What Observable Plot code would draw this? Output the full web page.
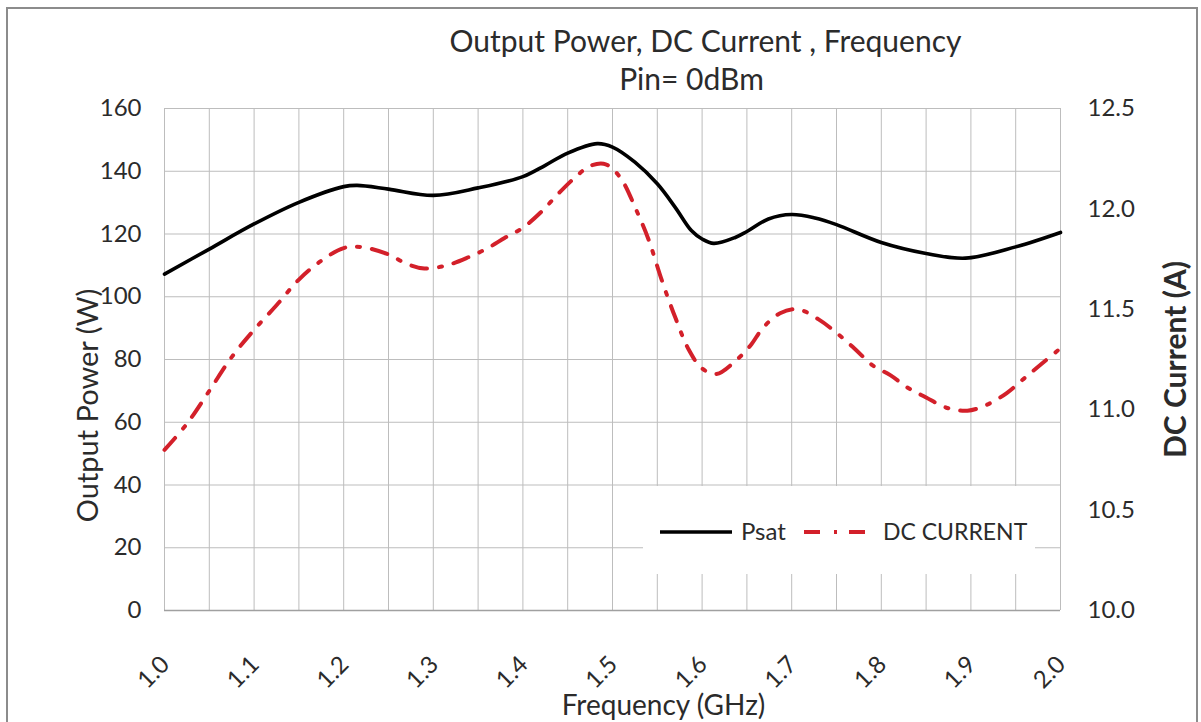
<!DOCTYPE html>
<html>
<head>
<meta charset="utf-8">
<script src="https://cdn.jsdelivr.net/npm/d3@7"></script>
<script src="https://cdn.jsdelivr.net/npm/@observablehq/plot@0.6"></script>
<style>
  html, body { margin: 0; padding: 0; background: #fff; }
  #wrap { position: relative; width: 1201px; height: 722px; overflow: hidden; font-family: Lato, "Open Sans", sans-serif; }
  #border { position: absolute; left: 6px; top: 7px; width: 1192px; height: 740px; border: 2px solid #8c8c8c; box-sizing: border-box; }
  #legend { position: absolute; left: 643px; top: 486px; width: 392px; height: 88px; background: #fff; }
</style>
</head>
<body>
<div id="wrap">
  <div id="border"></div>
  <div id="chart"></div>
  <div id="legend"></div>
</div>
<script>
// ---- data ----
const psatFreq = [1.0,1.05,1.1,1.15,1.2,1.215,1.25,1.3,1.35,1.4,1.425,1.45,1.483,1.5,1.525,1.55,1.57,1.588,1.6,1.613,1.637,1.65,1.674,1.7,1.726,1.75,1.8,1.85,1.894,1.95,2.0];
const psatW    = [107.2,115.2,123.2,130.1,135.1,135.5,134.3,132.3,134.7,138.3,141.9,145.8,148.8,147.7,142.9,136.0,128.5,121.1,118.4,117.0,118.9,120.8,124.8,126.2,125.1,123.0,117.3,113.8,112.3,115.9,120.5];

const dcFreq = [1.0,1.025,1.05,1.075,1.1,1.125,1.15,1.175,1.2,1.22,1.25,1.27,1.29,1.315,1.34,1.36,1.38,1.4,1.42,1.44,1.46,1.475,1.49,1.5,1.512,1.525,1.54,1.555,1.57,1.585,1.6,1.616,1.637,1.654,1.668,1.687,1.707,1.73,1.75,1.77,1.79,1.81,1.83,1.85,1.872,1.896,1.918,1.94,1.96,1.978,2.0];
const dcA    = [10.80,10.93,11.094,11.262,11.398,11.52,11.648,11.742,11.805,11.81,11.773,11.727,11.703,11.719,11.761,11.803,11.856,11.906,11.983,12.078,12.164,12.214,12.225,12.2,12.133,12.01,11.85,11.645,11.46,11.30,11.205,11.178,11.242,11.32,11.408,11.48,11.5,11.45,11.383,11.305,11.222,11.172,11.108,11.061,11.011,10.995,11.025,11.083,11.158,11.225,11.306];

const xTicks = [1.0,1.1,1.2,1.3,1.4,1.5,1.6,1.7,1.8,1.9,2.0];
const xGrid = d3.range(0, 21).map(i => 1 + i * 0.05);
const yLeftTicks = [0,20,40,60,80,100,120,140,160];
const yRightTicks = [10.0,10.5,11.0,11.5,12.0,12.5];

const titleText = "Output Power, DC Current , Frequency";
const subtitleText = "Pin= 0dBm";
const xLabel = "Frequency (GHz)";
const yLeftLabel = "Output Power (W)";
const yRightLabel = "DC Current (A)";
const seriesNames = ["Psat", "DC CURRENT"];

// right axis (A) mapped onto left axis (W): 10.0 A -> 0 W, 12.5 A -> 160 W
const aToW = a => (a - 10) * 64;

const psat = psatFreq.map((f, i) => ({f, v: psatW[i]}));
const dc = dcFreq.map((f, i) => ({f, v: aToW(dcA[i])}));

const RED = "#d3202a";
const TXT = "#2b2b2b";
const FONT = "Lato, 'Open Sans', sans-serif";

const chart = Plot.plot({
  width: 1201,
  height: 722,
  marginLeft: 164,
  marginRight: 141,
  marginTop: 108,
  marginBottom: 112,
  style: {fontFamily: FONT, background: "transparent", color: TXT, overflow: "visible"},
  x: {domain: [1, 2], axis: null},
  y: {domain: [0, 160], axis: null},
  marks: [
    Plot.ruleX(xGrid, {stroke: "#bdbdbd", strokeWidth: 1}),
    Plot.ruleY(yLeftTicks, {stroke: "#bdbdbd", strokeWidth: 1}),
    Plot.ruleY([0], {stroke: "#a0a0a0", strokeWidth: 1.5}),
    Plot.axisY({ticks: yLeftTicks, tickSize: 0, tickPadding: 23, fontSize: 24, label: null, tickFormat: d => String(d)}),
    Plot.axisY({anchor: "right", ticks: yRightTicks.map(aToW), tickSize: 0, tickPadding: 27, fontSize: 24, label: null,
      tickFormat: d => (10 + d / 64).toFixed(1)}),
    Plot.text(xTicks, {x: d => d, frameAnchor: "bottom", dy: 50, dx: 1, rotate: -45, textAnchor: "end",
      lineAnchor: "middle", text: d => d.toFixed(1), fontSize: 24, fill: TXT}),
    Plot.line(psat, {x: "f", y: "v", curve: "catmull-rom", stroke: "#000", strokeWidth: 3.6}),
    Plot.line(dc, {x: "f", y: "v", curve: "catmull-rom", stroke: RED, strokeWidth: 4,
      strokeDasharray: "16,12,3,12"}),
    Plot.text([titleText], {frameAnchor: "top", dx: 93, dy: -66, fontSize: 30, fill: TXT, lineAnchor: "middle", textAnchor: "middle"}),
    Plot.text([subtitleText], {frameAnchor: "top", dx: 79, dy: -28, fontSize: 30, fill: TXT, lineAnchor: "middle", textAnchor: "middle"}),
    Plot.text([xLabel], {frameAnchor: "bottom", dx: 51, dy: 96, fontSize: 28, fill: TXT, lineAnchor: "middle", textAnchor: "middle"}),
    Plot.text([yLeftLabel], {frameAnchor: "left", dx: -76, dy: 46, rotate: -90, fontSize: 29, fill: TXT, lineAnchor: "middle", textAnchor: "middle"}),
    Plot.text([yRightLabel], {frameAnchor: "right", dx: 116, dy: 0, rotate: -90, fontSize: 30, fontWeight: "bold", fill: TXT, lineAnchor: "middle", textAnchor: "middle"})
  ]
});
document.getElementById("chart").appendChild(chart);

// legend (inside plot area, on white box)
const leg = d3.select("#legend").append("svg").attr("width", 392).attr("height", 88)
  .style("font-family", FONT);
const ly = 46;
leg.append("line").attr("x1", 17).attr("x2", 89).attr("y1", ly).attr("y2", ly)
  .attr("stroke", "#000").attr("stroke-width", 3.6);
leg.append("text").attr("x", 98).attr("y", ly).attr("dy", "0.35em").attr("font-size", 24).attr("fill", TXT).text(seriesNames[0]);
leg.append("line").attr("x1", 161).attr("x2", 223).attr("y1", ly).attr("y2", ly)
  .attr("stroke", RED).attr("stroke-width", 4).attr("stroke-dasharray", "16,14,3,12");
leg.append("text").attr("x", 240).attr("y", ly).attr("dy", "0.35em").attr("font-size", 23).attr("fill", TXT).text(seriesNames[1]);
</script>
</body>
</html>
